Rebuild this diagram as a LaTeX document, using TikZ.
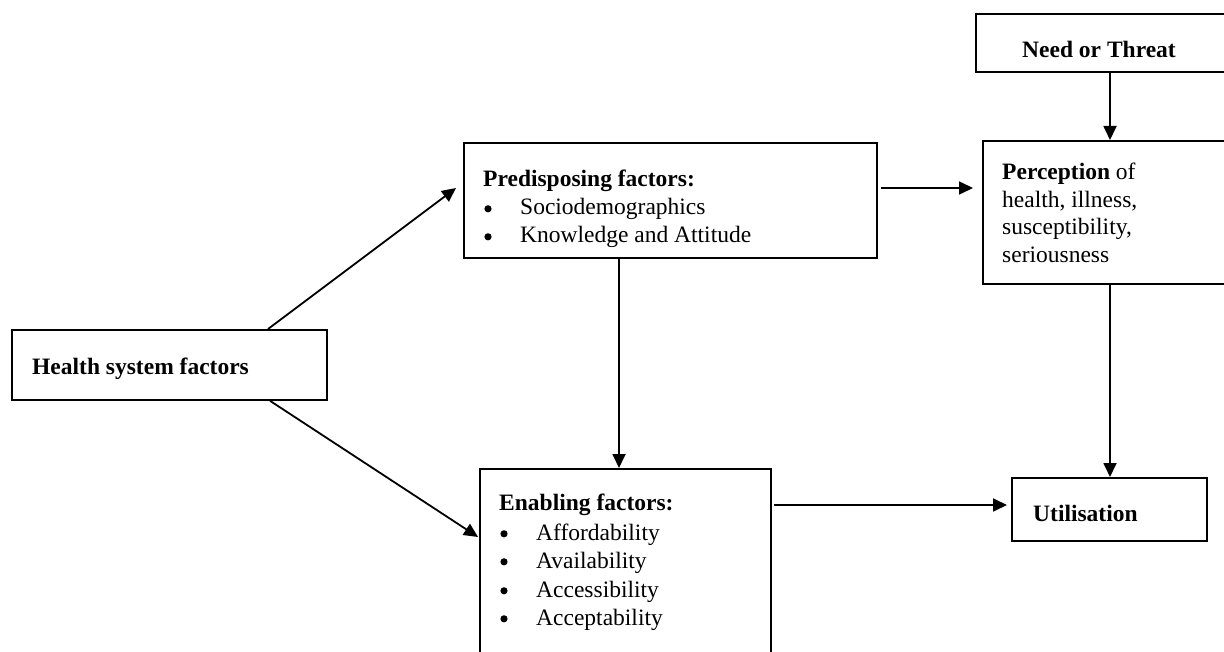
\documentclass[tikz,border=0pt]{standalone}
\usepackage{fontspec}
\setmainfont{Liberation Serif}
\usetikzlibrary{arrows.meta}
\newcommand{\mybul}{\makebox[37pt][l]{\hspace{1.2pt}\raisebox{2.6pt}{\tikz\fill[black] (0pt,0pt) circle (3.6pt);}}}
\begin{document}
\begin{tikzpicture}[x=1pt,y=-1pt,
  box/.style={draw=black, line width=1.8pt, inner sep=0pt, anchor=north west},
  lbl/.style={anchor=base west, inner sep=0pt, font=\fontsize{23.5}{28}\selectfont},
  arr/.style={line width=1.8pt, -{Triangle[length=14pt,width=13pt]}}]
\useasboundingbox (0,0) rectangle (1224,652);
\clip (0,0) rectangle (1224,652);
% boxes
\node[box, minimum width=265pt, minimum height=58pt] (need) at (975,13) {};
\node[box, minimum width=258pt, minimum height=143pt] (perc) at (982,140) {};
\node[box, minimum width=413pt, minimum height=115pt] (pred) at (463,142) {};
\node[box, minimum width=315pt, minimum height=70pt] (health) at (11,329) {};
\node[box, minimum width=291pt, minimum height=220pt] (enab) at (479,468) {};
\node[box, minimum width=195pt, minimum height=63pt] (util) at (1011,477) {};
% texts
\node[lbl] (tneed) at (1022,58) {\textbf{Need or Threat}};
\node[lbl] (tperc1) at (1002,180) {\textbf{Perception} of};
\node[lbl] (tperc2) at (1002,208) {health, illness,};
\node[lbl] (tperc3) at (1002,235) {susceptibility,};
\node[lbl] (tperc4) at (1002,263) {seriousness};
\node[lbl] (tpred1) at (483,187) {\textbf{Predisposing factors:}};
\node[lbl] (tpred2) at (483,215) {\mybul Sociodemographics};
\node[lbl] (tpred3) at (483,243) {\mybul Knowledge and Attitude};
\node[lbl] (thealth) at (32,374) {\textbf{Health system factors}};
\node[lbl] (tenab1) at (499,510) {\textbf{Enabling factors:}};
\node[lbl] (tenab2) at (499,540) {\mybul Affordability};
\node[lbl] (tenab3) at (499,568) {\mybul Availability};
\node[lbl] (tenab4) at (499,597) {\mybul Accessibility};
\node[lbl] (tenab5) at (499,625) {\mybul Acceptability};
\node[lbl] (tutil) at (1033,521) {\textbf{Utilisation}};
% arrows
\draw[arr] ([xshift=257pt]health.north west) -- ([xshift=-7pt,yshift=-46pt]pred.north west);
\draw[arr] ([xshift=259pt]health.south west) -- ([xshift=-1pt,yshift=-69pt]enab.north west);
\draw[arr] ([xshift=156pt]pred.south west) -- ([xshift=140pt]enab.north west);
\draw[arr] ([xshift=3pt,yshift=-46pt]pred.north east) -- ([xshift=-9pt,yshift=-48pt]perc.north west);
\draw[arr] ([xshift=2pt,yshift=-37pt]enab.north east) -- ([xshift=-4pt,yshift=-28pt]util.north west);
\draw[arr] ([xshift=135pt]need.south west) -- ([xshift=128pt]perc.north west);
\draw[arr] ([xshift=128pt]perc.south west) -- ([xshift=99pt]util.north west);
\end{tikzpicture}
\end{document}
